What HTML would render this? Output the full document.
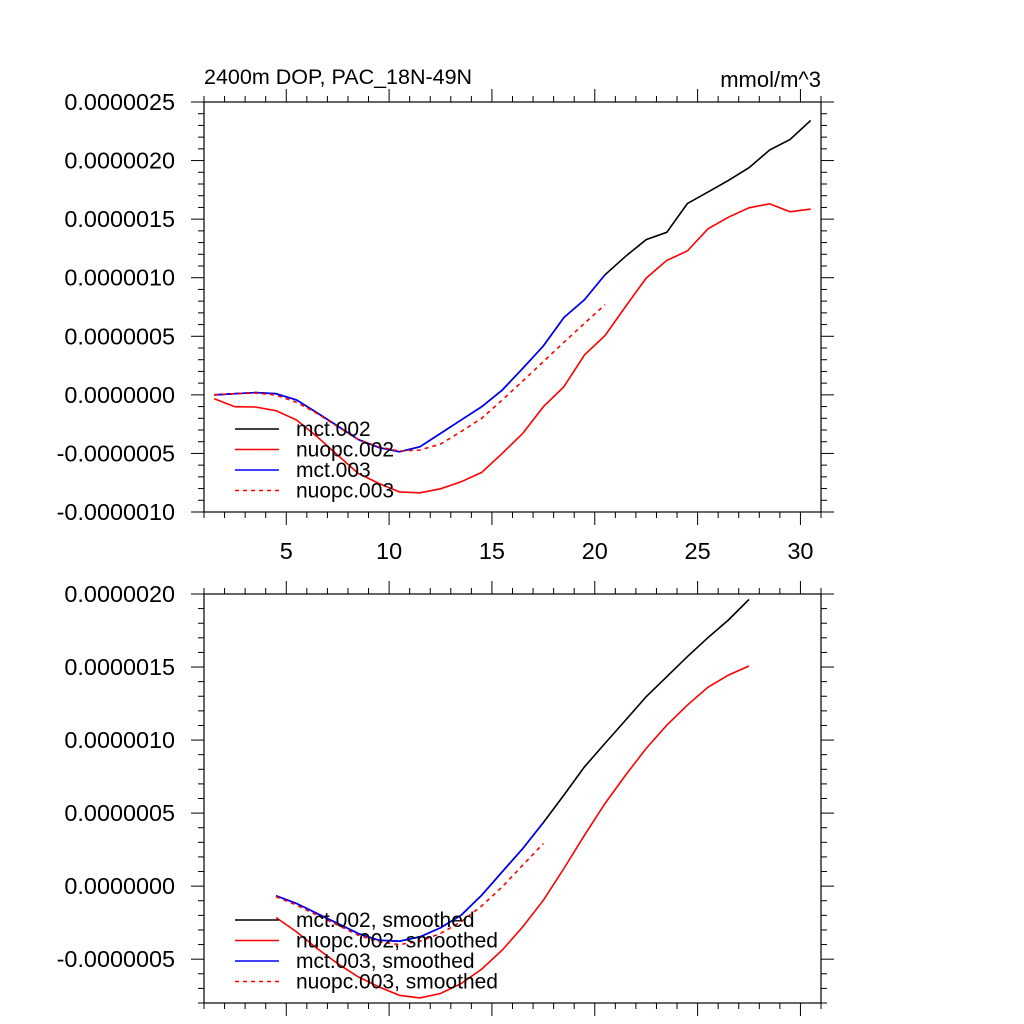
<!DOCTYPE html>
<html><head><meta charset="utf-8"><style>
html,body{margin:0;padding:0;background:#fff;}
svg{display:block;font-family:"Liberation Sans",Arial,sans-serif;}
</style></head><body>
<svg id="chart" width="1024" height="1024" viewBox="0 0 1024 1024"></svg>
<script>
const xs = [1.5,2.5,3.5,4.5,5.5,6.5,7.5,8.5,9.5,10.5,11.5,12.5,13.5,14.5,15.5,16.5,17.5,18.5,19.5,20.5,21.5,22.5,23.5,24.5,25.5,26.5,27.5,28.5,29.5,30.5];
const mct002 = [0,0.01,0.019,0.01,-0.044,-0.153,-0.267,-0.381,-0.449,-0.486,-0.443,-0.329,-0.215,-0.101,0.041,0.227,0.418,0.66,0.812,1.025,1.183,1.325,1.388,1.633,1.731,1.831,1.939,2.09,2.18,2.343];
const nuopc002 = [-0.033,-0.101,-0.104,-0.135,-0.215,-0.357,-0.514,-0.671,-0.756,-0.828,-0.836,-0.802,-0.742,-0.662,-0.5,-0.329,-0.101,0.07,0.341,0.506,0.754,0.997,1.148,1.228,1.417,1.517,1.597,1.631,1.563,1.586];
const mct003 = [0,0.01,0.019,0.01,-0.044,-0.153,-0.267,-0.381,-0.449,-0.486,-0.443,-0.329,-0.215,-0.101,0.041,0.227,0.418,0.66,0.812,1.025];
const nuopc003 = [0.001,0.01,0.016,-0.001,-0.064,-0.158,-0.272,-0.381,-0.443,-0.48,-0.471,-0.42,-0.314,-0.2,-0.044,0.118,0.284,0.449,0.611,0.77];
const xsSm = [4.5,5.5,6.5,7.5,8.5,9.5,10.5,11.5,12.5,13.5,14.5,15.5,16.5,17.5,18.5,19.5,20.5,21.5,22.5,23.5,24.5,25.5,26.5,27.5];
const mct002Sm = [-0.066,-0.119,-0.187,-0.256,-0.324,-0.37,-0.377,-0.347,-0.285,-0.199,-0.062,0.098,0.258,0.436,0.623,0.817,0.977,1.137,1.297,1.434,1.571,1.701,1.822,1.963];
const nuopc002Sm = [-0.215,-0.313,-0.427,-0.53,-0.621,-0.689,-0.747,-0.765,-0.735,-0.667,-0.568,-0.438,-0.278,-0.096,0.121,0.349,0.566,0.76,0.943,1.102,1.239,1.361,1.445,1.507];
const mct003Sm = [-0.066,-0.119,-0.187,-0.256,-0.324,-0.37,-0.377,-0.347,-0.285,-0.199,-0.062,0.098,0.258,0.436];
const nuopc003Sm = [-0.073,-0.13,-0.199,-0.267,-0.336,-0.381,-0.4,-0.377,-0.324,-0.244,-0.135,-0.005,0.144,0.292];
const xTicks = [5,10,15,20,25,30];
const yTicksTop = [-1.0,-0.5,0,0.5,1.0,1.5,2.0,2.5];
const yLabelsTop = ["-0.0000010","-0.0000005","0.0000000","0.0000005","0.0000010","0.0000015","0.0000020","0.0000025"];
const yTicksBot = [-0.5,0,0.5,1.0,1.5,2.0];
const yLabelsBot = ["-0.0000005","0.0000000","0.0000005","0.0000010","0.0000015","0.0000020"];

const NS="http://www.w3.org/2000/svg";
const svg=document.getElementById('chart');
function mk(tag,attrs,parent){const e=document.createElementNS(NS,tag);for(const k in attrs)e.setAttribute(k,attrs[k]);(parent||svg).appendChild(e);return e;}

function panel(name,top,bottom,ymin,ymax,yT,yL,showX,series,legend,legY){
  const L=204,R=821;
  const g=mk('g',{});
  
  
  const sx=v=>L+(v-1)/30*(R-L);
  const sy=v=>bottom-(v-ymin)/(ymax-ymin)*(bottom-top);
  const fr=mk('rect',{x:L,y:top,width:R-L,height:bottom-top,fill:'none',stroke:'#000','stroke-width':1.2},g);
  
  
  for(let v=1;v<=31;v++){
    const maj=v%5===0, len=maj?13:6;
    mk('line',{x1:sx(v),x2:sx(v),y1:bottom,y2:bottom+len,stroke:'#000','stroke-width':1},g);
    mk('line',{x1:sx(v),x2:sx(v),y1:top,y2:top-len,stroke:'#000','stroke-width':1},g);
  }
  if(showX){xTicks.forEach(v=>{const t=mk('text',{x:sx(v),y:bottom+47,'text-anchor':'middle','font-size':23.5},g);t.textContent=v;
    
    });}
  for(let v=Math.ceil(ymin*10-1e-6);v<=Math.floor(ymax*10+1e-6);v++){
    const val=v/10, maj=(v%5===0), len=maj?13:6;
    mk('line',{x1:L,x2:L-len,y1:sy(val),y2:sy(val),stroke:'#000','stroke-width':1},g);
    mk('line',{x1:R,x2:R+len,y1:sy(val),y2:sy(val),stroke:'#000','stroke-width':1},g);
  }
  yT.forEach((v,i)=>{const t=mk('text',{x:175,y:sy(v)+8,'text-anchor':'end','font-size':23.4},g);t.textContent=yL[i];
    
    });
  series.forEach(s=>{
    const pts=s.y.map((v,i)=>sx(s.x[i]).toFixed(1)+','+sy(v).toFixed(1)).join(' ');
    const p=mk('polyline',{points:pts,fill:'none',stroke:s.c,'stroke-width':1.6,'stroke-dasharray':s.d||'none'},g);
    
    
  });
  legend.forEach((s,i)=>{
    const y=legY+i*20.5;
    const le=mk('g',{},g);
    
    
    mk('line',{x1:235,x2:279,y1:y,y2:y,stroke:s.c,'stroke-width':1.6,'stroke-dasharray':s.d||'none'},le);
    const t=mk('text',{x:296,y:y+7,'font-size':21},le);t.textContent=s.label;
  });
}

const topSeries=[
 {n:'line-mct-002',x:xs,y:mct002,c:'#000'},
 {n:'line-nuopc-002',x:xs,y:nuopc002,c:'#f00'},
 {n:'line-mct-003',x:xs,y:mct003,c:'#00f'},
 {n:'line-nuopc-003',x:xs,y:nuopc003,c:'#f00',d:'4,4'}];
panel('top-panel',102,512,-1.0,2.5,yTicksTop,yLabelsTop,true,topSeries,
 [{c:'#000',label:'mct.002'},{c:'#f00',label:'nuopc.002'},{c:'#00f',label:'mct.003'},{c:'#f00',d:'4,4',label:'nuopc.003'}],429);
const botSeries=[
 {n:'line-mct-002-smoothed',x:xsSm,y:mct002Sm,c:'#000'},
 {n:'line-nuopc-002-smoothed',x:xsSm,y:nuopc002Sm,c:'#f00'},
 {n:'line-mct-003-smoothed',x:xsSm,y:mct003Sm,c:'#00f'},
 {n:'line-nuopc-003-smoothed',x:xsSm,y:nuopc003Sm,c:'#f00',d:'4,4'}];
panel('bottom-panel',594,1003,-0.8,2.0,yTicksBot,yLabelsBot,false,botSeries,
 [{c:'#000',label:'mct.002, smoothed'},{c:'#f00',label:'nuopc.002, smoothed'},{c:'#00f',label:'mct.003, smoothed'},{c:'#f00',d:'4,4',label:'nuopc.003, smoothed'}],920);

const t1=mk('text',{x:204,y:84,'font-size':21.5});t1.textContent='2400m DOP, PAC_18N-49N';


const t2=mk('text',{x:821,y:87,'font-size':22,'text-anchor':'end'});t2.textContent='mmol/m^3';


</script>
</body></html>
